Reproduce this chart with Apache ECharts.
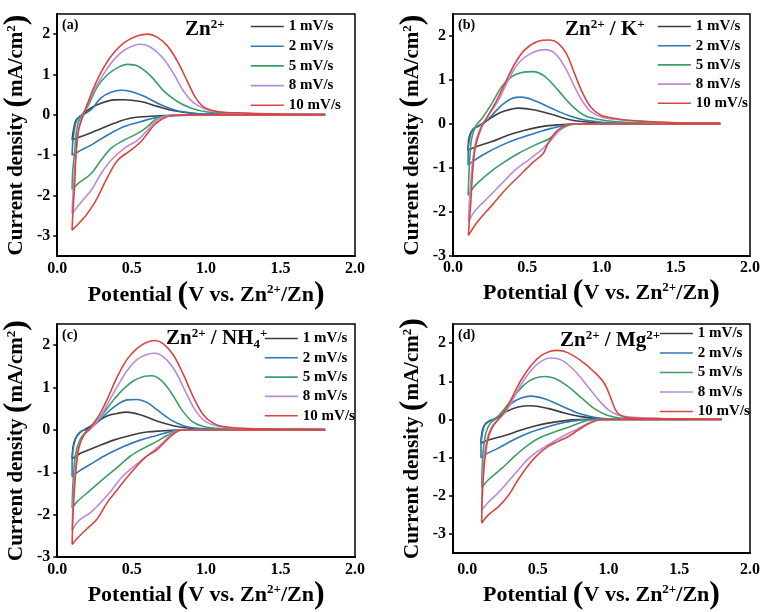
<!DOCTYPE html>
<html><head><meta charset="utf-8">
<script src="https://cdn.jsdelivr.net/npm/echarts@6/dist/echarts.min.js"></script>
<style>html,body{margin:0;padding:0;background:#fff}#c{width:763px;height:612px}</style>
</head><body><div id="c"></div>
<script>
// ---------- data ----------
const RATES = ['1 mV/s', '2 mV/s', '5 mV/s', '8 mV/s', '10 mV/s'];
const X_TICKS = [0, 0.5, 1, 1.5, 2];
const Y_TICKS = [-3, -2, -1, 0, 1, 2];

// (a) Zn2+  : each loop = cathodic sweep 1.8 -> 0.1 V, then anodic sweep 0.1 -> 1.8 V
const A_1 = [[1.8,0],[1.0,0],[0.8,-0.01],[0.72,-0.02],[0.607,-0.04],[0.495,-0.08],[0.383,-0.21],[0.272,-0.375],[0.16,-0.54],[0.1,-0.62],
  [0.109,-0.375],[0.127,-0.125],[0.16,-0.02],[0.227,0.17],[0.294,0.29],[0.383,0.37],[0.45,0.375],[0.56,0.33],[0.673,0.21],[0.785,0.1],[0.896,0.04],[1.0,0.02],[1.2,0.01],[1.8,0.01]];
const A_2 = [[1.8,0],[1.0,0],[0.785,-0.02],[0.673,-0.06],[0.56,-0.17],[0.45,-0.29],[0.339,-0.5],[0.227,-0.75],[0.138,-0.92],[0.1,-1.0],
  [0.103,-0.75],[0.109,-0.54],[0.123,-0.21],[0.15,-0.04],[0.183,0.02],[0.227,0.125],[0.294,0.42],[0.361,0.56],[0.428,0.61],[0.495,0.58],[0.584,0.46],[0.696,0.25],[0.807,0.1],[0.918,0.04],[1.0,0.02],[1.2,0.01],[1.8,0.01]];
const A_5 = [[1.8,0],[1.0,0],[0.8,-0.01],[0.75,-0.02],[0.673,-0.08],[0.607,-0.29],[0.54,-0.46],[0.45,-0.625],[0.361,-0.83],[0.294,-1.125],[0.227,-1.46],[0.138,-1.71],[0.1,-1.85],
  [0.104,-1.4],[0.116,-0.96],[0.134,-0.29],[0.16,-0.04],[0.205,0.21],[0.272,0.71],[0.339,1.0],[0.406,1.17],[0.473,1.25],[0.54,1.21],[0.629,0.96],[0.718,0.58],[0.807,0.33],[0.896,0.17],[1.01,0.07],[1.2,0.03],[1.8,0.01]];
const A_8 = [[1.8,0],[1.0,0],[0.8,-0.005],[0.74,-0.02],[0.673,-0.125],[0.607,-0.375],[0.54,-0.625],[0.45,-0.83],[0.361,-1.125],[0.294,-1.46],[0.227,-1.875],[0.16,-2.17],[0.1,-2.45],
  [0.105,-2.0],[0.116,-1.375],[0.134,-0.625],[0.16,-0.125],[0.194,0.17],[0.25,0.625],[0.317,1.04],[0.383,1.375],[0.46,1.625],[0.56,1.75],[0.63,1.67],[0.707,1.42],[0.785,1.0],[0.85,0.58],[0.92,0.29],[1.01,0.125],[1.1,0.06],[1.3,0.03],[1.8,0.01]];
const A_10 = [[1.8,0],[1.0,0],[0.8,-0.01],[0.74,-0.04],[0.662,-0.21],[0.606,-0.46],[0.562,-0.667],[0.495,-0.875],[0.406,-1.125],[0.339,-1.54],[0.272,-2.04],[0.239,-2.25],[0.183,-2.54],[0.1,-2.86],
  [0.104,-2.5],[0.116,-1.79],[0.127,-0.96],[0.143,-0.375],[0.172,-0.04],[0.205,0.29],[0.25,0.71],[0.305,1.125],[0.372,1.5],[0.45,1.79],[0.54,1.96],[0.607,2.0],[0.673,1.92],[0.74,1.71],[0.807,1.33],[0.874,0.83],[0.93,0.42],[0.986,0.19],[1.075,0.08],[1.2,0.05],[1.5,0.02],[1.8,0.01]];

// (b) Zn2+ / K+
const B_1 = [[1.8,0],[0.818,0],[0.707,-0.02],[0.596,-0.06],[0.484,-0.14],[0.373,-0.25],[0.262,-0.4],[0.151,-0.52],[0.102,-0.59],
  [0.107,-0.33],[0.129,-0.14],[0.162,-0.06],[0.218,0.05],[0.284,0.2],[0.351,0.3],[0.44,0.36],[0.551,0.32],[0.662,0.22],[0.773,0.11],[0.884,0.05],[1.0,0.02],[1.8,0.01]];
const B_2 = [[1.8,0],[0.884,0],[0.773,-0.02],[0.662,-0.1],[0.551,-0.21],[0.44,-0.33],[0.329,-0.48],[0.218,-0.67],[0.129,-0.86],[0.102,-0.93],
  [0.102,-0.6],[0.118,-0.25],[0.14,-0.1],[0.173,-0.05],[0.218,0.05],[0.262,0.2],[0.329,0.43],[0.396,0.58],[0.462,0.61],[0.551,0.53],[0.662,0.36],[0.773,0.2],[0.884,0.09],[0.973,0.05],[1.1,0.02],[1.8,0.01]];
const B_5 = [[1.8,0],[0.818,0],[0.762,-0.05],[0.707,-0.17],[0.651,-0.33],[0.551,-0.48],[0.44,-0.67],[0.329,-0.9],[0.24,-1.12],[0.151,-1.39],[0.102,-1.62],
  [0.111,-0.9],[0.124,-0.36],[0.151,-0.06],[0.196,0.13],[0.262,0.47],[0.329,0.85],[0.396,1.08],[0.462,1.17],[0.54,1.19],[0.618,1.08],[0.707,0.77],[0.796,0.43],[0.884,0.2],[0.973,0.11],[1.107,0.05],[1.3,0.02],[1.8,0.01]];
const B_8 = [[1.8,0],[0.8,0],[0.773,-0.01],[0.718,-0.14],[0.662,-0.36],[0.596,-0.59],[0.507,-0.82],[0.418,-1.05],[0.329,-1.35],[0.24,-1.66],[0.151,-1.96],[0.104,-2.22],
  [0.11,-1.8],[0.118,-1.43],[0.133,-0.82],[0.156,-0.36],[0.196,-0.02],[0.24,0.2],[0.307,0.55],[0.373,1.0],[0.44,1.38],[0.529,1.61],[0.618,1.69],[0.684,1.61],[0.751,1.31],[0.818,0.85],[0.873,0.51],[0.929,0.28],[1.018,0.14],[1.151,0.09],[1.4,0.04],[1.8,0.02]];
const B_10 = [[1.8,0],[0.82,0],[0.796,0],[0.74,-0.06],[0.684,-0.21],[0.64,-0.44],[0.607,-0.67],[0.529,-0.9],[0.44,-1.2],[0.351,-1.5],[0.262,-1.85],[0.173,-2.19],[0.104,-2.53],
  [0.11,-2.2],[0.118,-1.88],[0.133,-1.05],[0.151,-0.52],[0.184,-0.14],[0.218,0.09],[0.284,0.47],[0.351,0.93],[0.418,1.38],[0.484,1.69],[0.573,1.88],[0.651,1.91],[0.707,1.84],[0.762,1.61],[0.818,1.15],[0.873,0.7],[0.929,0.38],[0.996,0.2],[1.084,0.13],[1.196,0.08],[1.5,0.03],[1.8,0.02]];

// (c) Zn2+ / NH4+
const C_1 = [[1.8,0],[0.8,0],[0.713,-0.02],[0.602,-0.05],[0.49,-0.13],[0.379,-0.24],[0.268,-0.39],[0.156,-0.55],[0.1,-0.68],
  [0.107,-0.39],[0.123,-0.2],[0.156,-0.05],[0.2,0.04],[0.268,0.19],[0.334,0.33],[0.401,0.39],[0.468,0.42],[0.557,0.36],[0.669,0.21],[0.78,0.1],[0.892,0.04],[1.0,0.02],[1.8,0.01]];
const C_2 = [[1.8,0],[0.825,0],[0.758,-0.04],[0.669,-0.13],[0.557,-0.24],[0.446,-0.39],[0.334,-0.58],[0.223,-0.81],[0.134,-1.0],[0.1,-1.1],
  [0.1,-0.74],[0.111,-0.36],[0.134,-0.13],[0.167,-0.02],[0.212,0.02],[0.268,0.17],[0.334,0.4],[0.401,0.59],[0.468,0.71],[0.535,0.72],[0.602,0.65],[0.669,0.48],[0.758,0.25],[0.847,0.1],[0.936,0.04],[1.05,0.02],[1.8,0.01]];
const C_5 = [[1.8,0],[0.85,0],[0.803,-0.02],[0.736,-0.13],[0.669,-0.27],[0.58,-0.43],[0.49,-0.62],[0.401,-0.89],[0.312,-1.15],[0.223,-1.42],[0.134,-1.69],[0.1,-1.84],
  [0.107,-1.19],[0.123,-0.58],[0.152,-0.24],[0.19,-0.05],[0.245,0.1],[0.312,0.4],[0.379,0.71],[0.446,0.97],[0.513,1.16],[0.58,1.26],[0.635,1.28],[0.702,1.16],[0.769,0.86],[0.836,0.48],[0.903,0.21],[0.981,0.08],[1.07,0.04],[1.3,0.02],[1.8,0.01]];
const C_8 = [[1.8,0],[0.85,0],[0.803,-0.02],[0.758,-0.13],[0.691,-0.36],[0.624,-0.55],[0.557,-0.74],[0.49,-0.93],[0.424,-1.15],[0.357,-1.46],[0.29,-1.72],[0.223,-1.95],[0.145,-2.14],[0.1,-2.37],
  [0.107,-1.65],[0.123,-0.89],[0.145,-0.39],[0.178,-0.13],[0.223,0.02],[0.279,0.25],[0.334,0.59],[0.401,1.01],[0.468,1.39],[0.535,1.66],[0.602,1.78],[0.658,1.81],[0.725,1.69],[0.792,1.39],[0.858,0.93],[0.925,0.48],[0.992,0.21],[1.07,0.1],[1.18,0.05],[1.4,0.02],[1.8,0.01]];
const C_10 = [[1.8,0],[0.85,0],[0.814,-0.02],[0.769,-0.13],[0.713,-0.32],[0.669,-0.47],[0.602,-0.62],[0.535,-0.85],[0.468,-1.12],[0.401,-1.42],[0.334,-1.72],[0.268,-2.1],[0.2,-2.33],[0.134,-2.56],[0.1,-2.7],
  [0.107,-1.95],[0.123,-1.04],[0.145,-0.43],[0.178,-0.13],[0.223,0.06],[0.279,0.33],[0.334,0.71],[0.401,1.24],[0.468,1.66],[0.535,1.92],[0.602,2.07],[0.658,2.11],[0.713,2.03],[0.78,1.77],[0.847,1.31],[0.914,0.78],[0.981,0.36],[1.048,0.16],[1.115,0.08],[1.226,0.04],[1.5,0.02],[1.8,0.01]];

// (d) Zn2+ / Mg2+
const D_1 = [[1.8,0],[0.8,0],[0.734,-0.01],[0.617,-0.07],[0.5,-0.15],[0.383,-0.275],[0.266,-0.42],[0.15,-0.54],[0.098,-0.625],
  [0.103,-0.375],[0.119,-0.17],[0.15,-0.06],[0.196,0.02],[0.266,0.19],[0.36,0.325],[0.453,0.36],[0.57,0.29],[0.687,0.17],[0.804,0.075],[0.92,0.025],[1.05,0.01],[1.8,0.01]];
const D_2 = [[1.8,0],[0.85,0],[0.804,-0.01],[0.687,-0.08],[0.57,-0.19],[0.453,-0.33],[0.336,-0.52],[0.22,-0.75],[0.126,-0.92],[0.098,-1.0],
  [0.098,-0.71],[0.107,-0.375],[0.126,-0.125],[0.161,-0.025],[0.196,0],[0.243,0.125],[0.313,0.42],[0.383,0.56],[0.453,0.61],[0.547,0.54],[0.664,0.36],[0.78,0.17],[0.897,0.06],[0.99,0.02],[1.8,0.01]];
const D_5 = [[1.8,0],[0.9,0],[0.874,-0.01],[0.804,-0.08],[0.71,-0.21],[0.617,-0.33],[0.523,-0.46],[0.43,-0.67],[0.336,-0.96],[0.243,-1.29],[0.15,-1.58],[0.103,-1.79],
  [0.107,-1.21],[0.119,-0.625],[0.138,-0.29],[0.168,-0.08],[0.208,0.04],[0.266,0.29],[0.336,0.625],[0.407,0.92],[0.477,1.08],[0.547,1.125],[0.617,1.08],[0.71,0.875],[0.804,0.58],[0.897,0.29],[0.99,0.11],[1.084,0.04],[1.3,0.02],[1.8,0.01]];
const D_8 = [[1.8,0],[0.95,0],[0.92,-0.01],[0.85,-0.11],[0.78,-0.25],[0.71,-0.375],[0.64,-0.52],[0.57,-0.67],[0.5,-0.83],[0.43,-1.04],[0.36,-1.33],[0.29,-1.625],[0.22,-1.92],[0.15,-2.17],[0.103,-2.37],
  [0.107,-1.71],[0.121,-0.96],[0.145,-0.46],[0.178,-0.17],[0.22,0],[0.266,0.17],[0.313,0.46],[0.383,0.92],[0.453,1.29],[0.523,1.52],[0.593,1.61],[0.664,1.56],[0.757,1.29],[0.85,0.875],[0.932,0.5],[1.0,0.25],[1.06,0.125],[1.154,0.06],[1.4,0.02],[1.8,0.01]];
const D_10 = [[1.8,0],[0.95,0],[0.92,-0.02],[0.85,-0.125],[0.78,-0.29],[0.71,-0.46],[0.64,-0.58],[0.57,-0.71],[0.5,-0.92],[0.43,-1.21],[0.36,-1.58],[0.29,-2.0],[0.22,-2.29],[0.15,-2.5],[0.103,-2.71],
  [0.107,-2.04],[0.121,-1.21],[0.145,-0.54],[0.178,-0.21],[0.22,0],[0.266,0.21],[0.313,0.54],[0.383,1.04],[0.453,1.42],[0.523,1.67],[0.593,1.79],[0.64,1.81],[0.71,1.75],[0.804,1.54],[0.897,1.25],[0.967,0.96],[1.014,0.58],[1.049,0.25],[1.084,0.11],[1.154,0.04],[1.4,0.02],[1.8,0.01]];

const PANEL_DATA = [
  [A_1, A_2, A_5, A_8, A_10],
  [B_1, B_2, B_5, B_8, B_10],
  [C_1, C_2, C_5, C_8, C_10],
  [D_1, D_2, D_5, D_8, D_10]
];

// ---------- styles / layout ----------
const COLORS = ['#3d3d3d', '#2f77b7', '#3c9e66', '#b98bdc', '#d9463e'];
const FONT = 'Liberation Serif';
const GRIDS = [
  { left: 56,  top: 14,  width: 299, height: 242 },
  { left: 453, top: 14,  width: 300, height: 242 },
  { left: 56,  top: 324, width: 299, height: 242 },
  { left: 453, top: 324, width: 300, height: 242 }
];
const XR = [[0, 2], [0, 2], [0, 2], [-0.1, 2]];
const YR = [[-3.5, 2.5], [-3, 2.5], [-3, 2.5], [-3.5, 2.5]];
const X_LABEL_MARGIN = [5, 4, 5, 9];
const X_NAME_GAP = [27, 25, 15, 24];
const Y_NAME_GAP = [20, 21, 20, 20];
const LEGEND_POS = [[250, 19], [657, 19], [264, 331], [659, 326]];
const LEGEND_GAP = [4.7, 4.2, 4.3, 4.5];

const base = { fontFamily: FONT, fontWeight: 'bold', color: '#000' };
const rich = {
  sup: Object.assign({}, base, { fontSize: 13, lineHeight: 13, verticalAlign: 'top' }),
  sub: Object.assign({}, base, { fontSize: 13, lineHeight: 13, verticalAlign: 'bottom' }),
  p: Object.assign({}, base, { fontSize: 32, lineHeight: 24 })
};
const titleRich = {
  b: Object.assign({}, base, { fontSize: 21, lineHeight: 24 }),
  sup: Object.assign({}, base, { fontSize: 13, lineHeight: 13, verticalAlign: 'top' }),
  sub: Object.assign({}, base, { fontSize: 13, lineHeight: 12, verticalAlign: 'bottom' })
};

const TITLES = [
  { text: '{b|Zn}{sup|2+}', left: 185, top: 18 },
  { text: '{b|Zn}{sup|2+}{b| / K}{sup|+}', left: 565, top: 18 },
  { text: '{b|Zn}{sup|2+}{b| / NH}{sub|4}{sup|+}', left: 166, top: 327 },
  { text: '{b|Zn}{sup|2+}{b| / Mg}{sup|2+}', left: 560, top: 329 }
];
const LABELS = [['(a)', 62, 18], ['(b)', 458, 18], ['(c)', 62, 328], ['(d)', 458, 328]];

const option = {
  animation: false,
  backgroundColor: '#fff',
  textStyle: { fontFamily: FONT },
  title: [],
  grid: [], xAxis: [], yAxis: [], legend: [], series: []
};

GRIDS.forEach((g, i) => {
  option.grid.push(Object.assign({ show: true, borderColor: '#000', borderWidth: 1.5, backgroundColor: 'transparent', containLabel: false }, g));
  option.xAxis.push({
    type: 'value', gridIndex: i, min: XR[i][0], max: XR[i][1],
    name: 'Potential {p|(}V vs. Zn{sup|2+}/Zn{p|)}',
    nameLocation: 'middle', nameGap: X_NAME_GAP[i],
    nameTextStyle: Object.assign({}, base, { fontSize: 22, lineHeight: 24, rich: rich }),
    axisLine: { show: true, onZero: false, lineStyle: { color: '#000', width: 2 } },
    axisTick: { show: false, customValues: X_TICKS },
    axisLabel: Object.assign({}, base, { fontSize: 16, margin: X_LABEL_MARGIN[i], customValues: X_TICKS, formatter: v => v.toFixed(1) }),
    splitLine: { show: false }
  });
  option.yAxis.push({
    type: 'value', gridIndex: i, min: YR[i][0], max: YR[i][1],
    name: 'Current density {p|(}mA/cm{sup|2}{p|)}',
    nameLocation: 'middle', nameGap: Y_NAME_GAP[i],
    nameTextStyle: Object.assign({}, base, { fontSize: 21, lineHeight: 24, rich: rich }),
    axisLine: { show: true, onZero: false, lineStyle: { color: '#000', width: 2 } },
    axisTick: { show: true, inside: false, length: 4, lineStyle: { color: '#000', width: 1.5 }, customValues: Y_TICKS },
    axisLabel: Object.assign({}, base, { fontSize: 16, margin: 7, customValues: Y_TICKS, formatter: v => String(v) }),
    splitLine: { show: false }
  });
  option.legend.push({
    orient: 'vertical', left: LEGEND_POS[i][0], top: LEGEND_POS[i][1], padding: 0,
    itemWidth: 33, itemHeight: 14, itemGap: LEGEND_GAP[i],
    data: RATES, selectedMode: false,
    itemStyle: { opacity: 0 },
    lineStyle: { width: 1.6 },
    textStyle: Object.assign({}, base, { fontSize: 15, lineHeight: 14 })
  });
  option.title.push({ text: TITLES[i].text, left: TITLES[i].left, top: TITLES[i].top, padding: 0,
    textStyle: Object.assign({}, base, { fontSize: 21, rich: titleRich }) });
  option.title.push({ text: LABELS[i][0], left: LABELS[i][1], top: LABELS[i][2], padding: 0,
    textStyle: Object.assign({}, base, { fontSize: 14 }) });
  PANEL_DATA[i].forEach((d, k) => {
    option.series.push({
      type: 'line', name: RATES[k], xAxisIndex: i, yAxisIndex: i,
      data: d, symbol: 'none', smooth: 0.35, clip: true,
      lineStyle: { color: COLORS[k], width: 1.6 }, itemStyle: { color: COLORS[k] }
    });
  });
});

const chart = echarts.init(document.getElementById('c'), null, { renderer: 'canvas' });
chart.setOption(option);
</script>
</body></html>
